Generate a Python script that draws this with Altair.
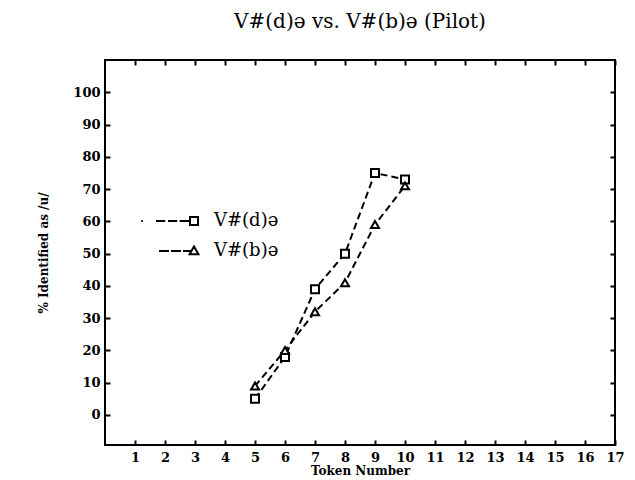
import altair as alt
import pandas as pd

# ---- data ----
tokens = [5, 6, 7, 8, 9, 10]
d_vals = [5, 18, 39, 50, 75, 73]   # squares  V#(d)ə
b_vals = [9, 20, 32, 41, 59, 71]   # triangles V#(b)ə
LBL_D = "V#(d)ə"
LBL_B = "V#(b)ə"
x_ticks = list(range(1, 18))
y_ticks = list(range(0, 101, 10))

df = pd.DataFrame({
    "token": tokens + tokens,
    "pct": d_vals + b_vals,
    "series": [LBL_D] * len(tokens) + [LBL_B] * len(tokens),
})

SERIF = "DejaVu Serif"
xs = alt.Scale(domain=[0, 17], nice=False, zero=False)
ys = alt.Scale(domain=[-9.3, 110], nice=False, zero=False)

common = dict(grid=False, domain=False, tickSize=5, offset=-5, tickColor="black",
              tickWidth=2, labelFont=SERIF, labelFontSize=13, labelFontWeight="bold",
              labelColor="black", titleFont=SERIF, titleFontWeight="bold",
              titleColor="black", labelFlush=False)

x_bottom = alt.X("token:Q", scale=xs, axis=alt.Axis(orient="bottom", values=x_ticks,
                 title="Token Number", labelPadding=6, titlePadding=1, titleFontSize=12,
                 **common))
y_left = alt.Y("pct:Q", scale=ys, axis=alt.Axis(orient="left", values=y_ticks,
               title="% Identified as /u/", labelPadding=5, titlePadding=22,
               titleFontSize=12, **common))
x_top = alt.X("token:Q", scale=xs, axis=alt.Axis(orient="top", values=x_ticks, labels=False,
              title=None, **common))
y_right = alt.Y("pct:Q", scale=ys, axis=alt.Axis(orient="right", values=y_ticks, labels=False,
                title=None, **common))

base = alt.Chart(df)

lines = base.mark_line(color="black", strokeDash=[7, 4], strokeWidth=2).encode(
    x=x_bottom, y=y_left, detail="series:N")

points = base.mark_point(filled=True, fill="white", stroke="black", strokeWidth=2,
                         size=64, opacity=1).encode(
    x=x_top, y=y_right,
    shape=alt.Shape("series:N", scale=alt.Scale(domain=[LBL_D, LBL_B],
                    range=["square", "triangle-up"]), legend=None))

p_d = ("M-13.2,0L-12.8,0M-9.5,0L-7.2,0M-6.5,0L-4.2,0M-3.6,0L-1,0"
       "M-1,-1L1,-1L1,1L-1,1Z")
p_b = ("M-8.75,0L-6.25,0M-5.75,0L-3.25,0M-2.75,0L-0.6,0"
       "M0,-1.1L1.1,0.8L-1.1,0.8Z")

legend_layer = base.mark_point(opacity=0, size=64).encode(
    x=alt.X("token:Q", scale=xs, axis=None),
    y=alt.Y("pct:Q", scale=ys, axis=None),
    shape=alt.Shape("series:N", scale=alt.Scale(domain=[LBL_D, LBL_B], range=[p_d, p_b]),
                    legend=alt.Legend(orient="none", legendX=80, legendY=152, title=None,
                                      symbolSize=64, symbolStrokeWidth=2,
                                      symbolStrokeColor="black",
                                      symbolFillColor="transparent", symbolOpacity=1,
                                      labelFont=SERIF, labelFontSize=18, labelColor="black",
                                      rowPadding=12, labelOffset=11, padding=0)))

chart = alt.layer(lines, points, legend_layer).resolve_scale(
    shape="independent").resolve_axis(x="independent", y="independent").properties(
    width=510, height=385,
    title=alt.Title("V#(d)ə vs. V#(b)ə (Pilot)", font=SERIF, fontSize=20,
                    fontWeight="normal", color="black", offset=27, anchor="middle"),
    autosize=alt.AutoSizeParams(type="none"),
    padding={"left": 97, "top": 52, "right": 12, "bottom": 34},
    background="white",
).configure_view(stroke="black", strokeWidth=2)

chart.save("out.html", embed_options={"renderer": "svg", "actions": False})
